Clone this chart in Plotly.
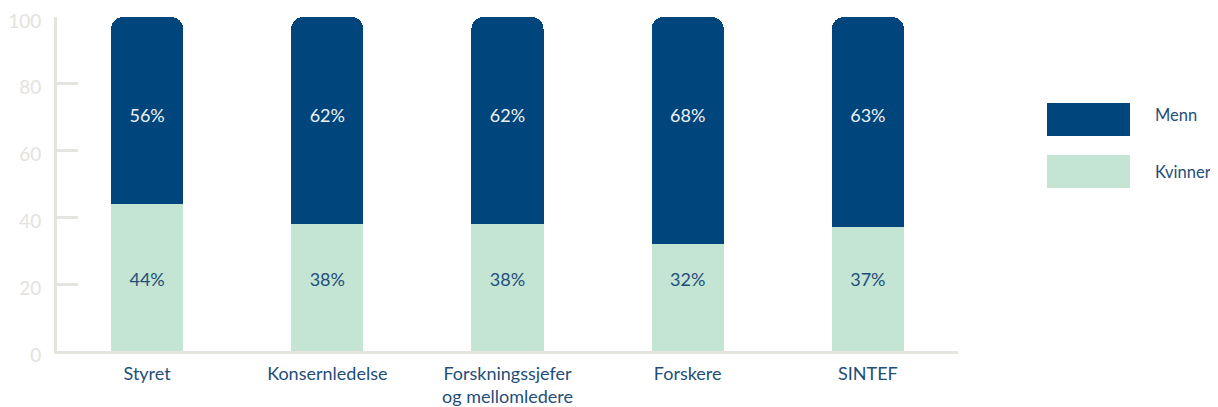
import plotly.graph_objects as go

categories = ["Styret", "Konsernledelse", "Forskningssjefer<br>og mellomledere", "Forskere", "SINTEF"]
kvinner = [44, 38, 38, 32, 37]
menn = [56, 62, 62, 68, 63]
menn_label_y = [70, 70, 70, 70, 70]
kvinner_label_y = [20.7, 20.7, 20.7, 20.7, 20.7]
yticks = [0, 20, 40, 60, 80, 100]

DARK = "#00457C"
LIGHT = "#C4E4D4"
AXIS = "#E6E4DE"
TEXT = "#1F4E79"
FONT = "Lato, Open Sans, sans-serif"

fig = go.Figure()
fig.add_bar(x=categories, y=kvinner, name="Kvinner", marker_color=LIGHT, marker_line_width=0)
fig.add_bar(x=categories, y=menn, name="Menn", marker_color=DARK, marker_line_width=0)
fig.add_scatter(x=categories, y=menn_label_y, mode="text", text=[f"{v}%" for v in menn],
                textfont=dict(color="#EEF2F7", size=18, family=FONT), showlegend=False, hoverinfo="skip")
fig.add_scatter(x=categories, y=kvinner_label_y, mode="text", text=[f"{v}%" for v in kvinner],
                textfont=dict(color=TEXT, size=18, family=FONT), showlegend=False, hoverinfo="skip")

# legend drawn as large swatches (paper coords relative to plot area 57..958 x 17..351)
legend_items = [("Menn", DARK, (351 - 119.5) / 334, (351 - 115) / 334),
                ("Kvinner", LIGHT, (351 - 171.5) / 334, (351 - 172) / 334)]
for name, col, yc, yt in legend_items:
    fig.add_shape(type="rect", xref="paper", yref="paper",
                  x0=(1047 - 57) / 901, x1=(1130 - 57) / 901,
                  y0=yc - 16.5 / 334, y1=yc + 16.5 / 334,
                  fillcolor=col, line_width=0)
    fig.add_annotation(xref="paper", yref="paper", x=(1153 - 57) / 901, y=yt,
                       text=name, showarrow=False, xanchor="left", yanchor="middle",
                       font=dict(color=TEXT, size=16.5, family=FONT))

# page body has an 8px default margin: shrink figure and margins accordingly
fig.update_layout(
    barmode="stack",
    bargap=0.6,
    barcornerradius=12,
    width=1210, height=399,
    margin=dict(l=49, r=260, t=9, b=56, autoexpand=False),
    plot_bgcolor="white", paper_bgcolor="white",
    showlegend=False,
    font=dict(family=FONT),
)
fig.update_yaxes(range=[0, 100], tickvals=yticks, showgrid=False, zeroline=False, automargin=False,
                 showline=True, linecolor=AXIS, linewidth=3,
                 ticks="inside", ticklen=21, tickwidth=3, tickcolor=AXIS, ticklabeloverflow="allow",
                 ticklabelshift=4,
                 tickfont=dict(color="#E4E2DC", size=19, family=FONT), ticklabelstandoff=9)
fig.update_xaxes(range=[-0.5, 4.5], showgrid=False, showline=True, linecolor=AXIS, linewidth=3,
                 automargin=False,
                 ticks="", tickfont=dict(color=TEXT, size=18, family=FONT), ticklabelstandoff=4)

fig.write_html("out.html")
